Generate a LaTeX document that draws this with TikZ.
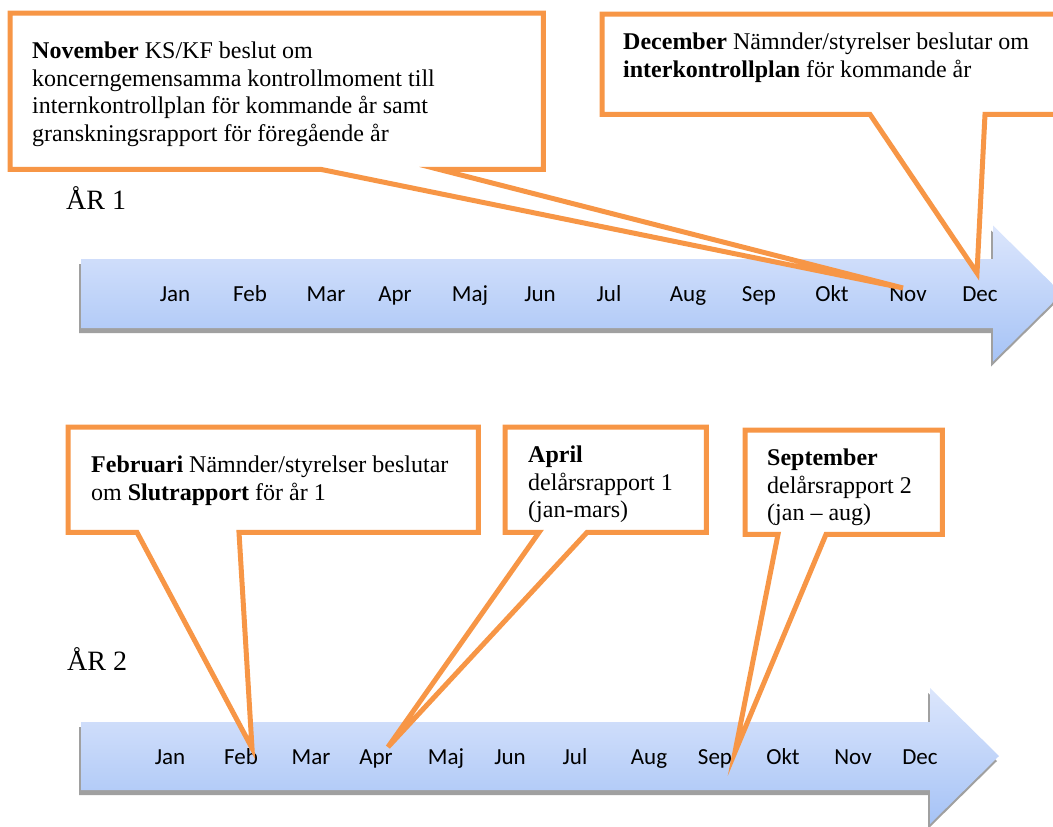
\documentclass[tikz,border=0pt]{standalone}
\usepackage{fontspec}
\setmainfont{Liberation Serif}
\newfontfamily\calibri{Carlito}
\usetikzlibrary{positioning,calc}
\definecolor{callorange}{HTML}{F79646}
\definecolor{arrowtop}{HTML}{DCE6FC}
\definecolor{arrowbot}{HTML}{A6C3F6}
\definecolor{arrowshadow}{HTML}{A0A0A0}
\begin{document}
\begin{tikzpicture}[x=1pt,y=-1pt]
	\tikzset{month/.style={font=\calibri\fontsize{23}{27}\selectfont,anchor=base,inner sep=0pt},
	         year/.style={font=\fontsize{28}{32}\selectfont,anchor=base west,inner sep=0pt},
	         note/.style={font=\fontsize{24}{27.5}\selectfont,align=left,inner sep=0pt},
	         box/.style={inner sep=0pt,anchor=north west},
	         co/.style={draw=callorange,fill=white,line width=5pt},
	         shadowed/.style={fill=arrowshadow},
	         band/.style={top color=arrowtop,bottom color=arrowbot}}
	\useasboundingbox (0,0) rectangle (1053,827);
	\clip (0,0) rectangle (1053,827);
	% timelines
	\foreach \yc/\hb/\neck in {293.5/34.5/993, 756/34/930} {
		\fill[shadowed,xshift=-2pt,yshift=-5pt] (81,\yc-\hb) -- (\neck,\yc-\hb) -- (\neck,\yc-68)
			-- (\neck+69,\yc) -- (\neck,\yc+68) -- (\neck,\yc+\hb) -- (81,\yc+\hb) -- cycle;
		\shade[band] (81,\yc-\hb) -- (\neck,\yc-\hb) -- (\neck,\yc-68)
			-- (\neck+69,\yc) -- (\neck,\yc+68) -- (\neck,\yc+\hb) -- (81,\yc+\hb) -- cycle;
	}
	\foreach \m/\x [count=\i] in {Jan/175,Feb/250,Mar/326,Apr/395,Maj/470,Jun/540,
	                              Jul/609,Aug/688,Sep/759,Okt/832,Nov/908,Dec/980}
		\node[month] (m1-\i) at (\x,301) {\m};
	\foreach \m/\x [count=\i] in {Jan/170,Feb/241,Mar/311,Apr/376,Maj/446,Jun/510,
	                              Jul/575,Aug/649,Sep/715,Okt/783,Nov/853,Dec/920}
		\node[month] (m2-\i) at (\x,764) {\m};
	\node[year] (year1) at (66,209) {ÅR 1};
	\node[year] (year2) at (67,670) {ÅR 2};
	% pointer tips
	\coordinate (pNov) at (903,288);
	\coordinate (pDec) at (977,273);
	\coordinate (pFeb) at (252,748);
	\coordinate (pApr) at (388,747);
	\coordinate (pSep) at (735,752);
	% callout boxes
	\node[box,minimum width=533pt,minimum height=156pt] (bNov) at (10,13) {};
	\node[box,minimum width=463pt,minimum height=100pt] (bDec) at (602,14) {};
	\node[box,minimum width=410pt,minimum height=105pt] (bFeb) at (68,427) {};
	\node[box,minimum width=201pt,minimum height=105pt] (bApr) at (505,427) {};
	\node[box,minimum width=197pt,minimum height=104pt] (bSep) at (745,430) {};
	\draw[co] (bNov.south west) -- ($(bNov.south west)+(311,0)$) -- (pNov) -- ($(bNov.south west)+(429,0)$)
		-- (bNov.south east) -- (bNov.north east) -- (bNov.north west) -- cycle;
	\draw[co] (bDec.south west) -- ($(bDec.south west)+(268,0)$) -- (pDec) -- ($(bDec.south west)+(383,0)$)
		-- (bDec.south east) -- (bDec.north east) -- (bDec.north west) -- cycle;
	\draw[co] (bFeb.south west) -- ($(bFeb.south west)+(69,0)$) -- (pFeb) -- ($(bFeb.south west)+(171,0)$)
		-- (bFeb.south east) -- (bFeb.north east) -- (bFeb.north west) -- cycle;
	\draw[co] (bApr.south west) -- ($(bApr.south west)+(34,0)$) -- (pApr) -- ($(bApr.south west)+(82,0)$)
		-- (bApr.south east) -- (bApr.north east) -- (bApr.north west) -- cycle;
	\draw[co] (bSep.south west) -- ($(bSep.south west)+(33,0)$) -- (pSep) -- ($(bSep.south west)+(81,0)$)
		-- (bSep.south east) -- (bSep.north east) -- (bSep.north west) -- cycle;
	% callout texts
	\node[note,below right=29pt and 22pt of bNov.north west] (tNov) {\textbf{November} KS/KF beslut om\\
		koncerngemensamma kontrollmoment till\\ internkontrollplan för kommande år samt\\
		granskningsrapport för föregående år};
	\node[note,below right=19pt and 21pt of bDec.north west] (tDec) {\textbf{December} Nämnder/styrelser beslutar om\\
		\textbf{interkontrollplan} för kommande år};
	\node[note,below right=29pt and 23pt of bFeb.north west] (tFeb) {\textbf{Februari} Nämnder/styrelser beslutar\\
		om \textbf{Slutrapport} för år 1};
	\node[note,below right=19pt and 23pt of bApr.north west] (tApr) {\textbf{April}\\ delårsrapport 1\\ (jan-mars)};
	\node[note,below right=19pt and 22pt of bSep.north west] (tSep) {\textbf{September}\\ delårsrapport 2\\ (jan -- aug)};
\end{tikzpicture}
\end{document}
